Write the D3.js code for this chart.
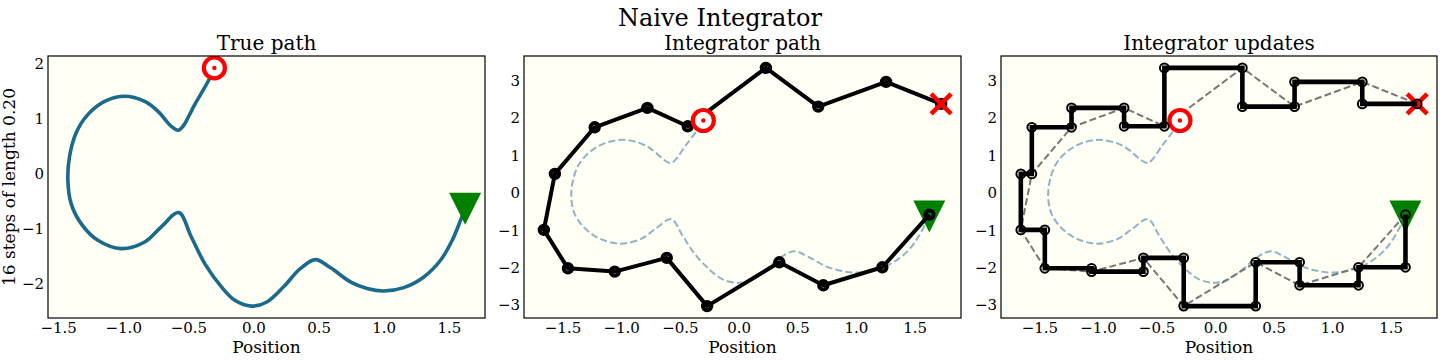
<!DOCTYPE html>
<html><head><meta charset="utf-8">
<script src="https://cdn.jsdelivr.net/npm/d3@7"></script>
<style>
body{margin:0;background:#fff}
svg{display:block}
text{font-family:"DejaVu Serif",serif;fill:#000}
</style>
</head><body>
<svg id="c" width="1440" height="360"></svg>
<script>
// ---- data ----
const truePathX = [1.625,1.59,1.526,1.436,1.308,1.154,1.0,0.872,0.744,0.59,0.475,0.359,0.231,0.103,-0.015,-0.143,-0.246,-0.374,-0.477,-0.574,-0.708,-0.835,-1.015,-1.195,-1.323,-1.40,-1.425,-1.412,-1.362,-1.272,-1.143,-0.99,-0.835,-0.733,-0.631,-0.579,-0.541,-0.451,-0.348,-0.30];
const truePathY = [-0.65,-0.86,-1.224,-1.587,-1.89,-2.084,-2.145,-2.10,-1.98,-1.72,-1.575,-1.74,-2.07,-2.345,-2.42,-2.315,-2.07,-1.647,-1.163,-0.72,-0.98,-1.254,-1.375,-1.224,-0.92,-0.557,-0.133,0.30,0.727,1.06,1.30,1.395,1.30,1.12,0.849,0.776,0.849,1.244,1.667,1.91];
const integX = [1.626,1.225,0.722,0.347,-0.268,-0.612,-1.055,-1.454,-1.659,-1.565,-1.226,-0.777,-0.433,0.233,0.679,1.257,1.726];
const integY = [-0.60,-2.005,-2.485,-1.872,-3.04,-1.755,-2.12,-2.032,-1.008,0.485,1.728,2.245,1.755,3.312,2.28,2.939,2.352];
const startPoint = [1.625,-0.65];
const targetPoint = [-0.30,1.91];
const xTicks = [-1.5,-1.0,-0.5,0.0,0.5,1.0,1.5];
const yTicks1 = [-2,-1,0,1,2];
const yTicks23 = [-3,-2,-1,0,1,2,3];
const titles = ["True path","Integrator path","Integrator updates"];
const mainTitle = "Naive Integrator";
const xLabel = "Position";
const yLabel = "16 steps of length 0.20";

// ---- layout ----
const svg = d3.select("#c");
const plotTop = 56, plotBottom = 318;
const panels = [{l:48,r:485},{l:524,r:961},{l:1001,r:1437}];
const BG = "#fffff5", PATH = "#1b6a8a";

const truePts = truePathX.map((x,i)=>[x,truePathY[i]]);
const integPts = integX.map((x,i)=>[x,integY[i]]);
const corners = integPts.slice(0,-1).map((p,i)=>[p[0], integPts[i+1][1]]);
const endPoint = integPts[integPts.length-1];

function dom(arr){const e=d3.extent(arr);const m=(e[1]-e[0])*0.05;return [e[0]-m,e[1]+m];}

const fmt1 = d3.format(".1f"), fmt0 = d3.format("d");

svg.append("text").attr("x",720).attr("y",26).attr("text-anchor","middle")
  .style("font-size","24px").text(mainTitle);

panels.forEach((p,k)=>{
  let xs = truePathX.concat([startPoint[0],targetPoint[0]]);
  let ys = truePathY.concat([startPoint[1],targetPoint[1]]);
  if(k>0){ xs = xs.concat(integX); ys = ys.concat(integY); }
  const x = d3.scaleLinear().domain(dom(xs)).range([p.l,p.r]);
  const y = d3.scaleLinear().domain(dom(ys)).range([plotBottom,plotTop]);
  const g = svg.append("g");
  const clipId = "clip"+k;
  svg.append("clipPath").attr("id",clipId).append("rect")
    .attr("x",p.l).attr("y",plotTop).attr("width",p.r-p.l).attr("height",plotBottom-plotTop);
  g.append("rect").attr("x",p.l).attr("y",plotTop).attr("width",p.r-p.l).attr("height",plotBottom-plotTop)
    .attr("fill",BG);
  const pg = g.append("g").attr("clip-path",`url(#${clipId})`);
  const line = d3.line().x(d=>x(d[0])).y(d=>y(d[1]));
  const smooth = d3.line().x(d=>x(d[0])).y(d=>y(d[1])).curve(d3.curveCatmullRom.alpha(0.5));

  function drawTriangle(){
    const cx=x(startPoint[0]), cy=y(startPoint[1]), s=16;
    pg.append("path").attr("d",`M${cx-s},${cy-s}L${cx+s},${cy-s}L${cx},${cy+s}Z`).attr("fill","#008000");
  }
  function drawTarget(){
    const cx=x(targetPoint[0]), cy=y(targetPoint[1]);
    pg.append("circle").attr("cx",cx).attr("cy",cy).attr("r",10.5).attr("fill","#fff")
      .attr("stroke","#ff0000").attr("stroke-width",4.2);
    pg.append("circle").attr("cx",cx).attr("cy",cy).attr("r",2.2).attr("fill","#ff0000");
  }
  function drawX(){
    const cx=x(endPoint[0]), cy=y(endPoint[1]), s=10;
    pg.append("path").attr("d",`M${cx-s},${cy-s}L${cx+s},${cy+s}M${cx-s},${cy+s}L${cx+s},${cy-s}`)
      .attr("stroke","#ff0000").attr("stroke-width",4.5).attr("fill","none");
  }

  if(k===0){
    pg.append("path").attr("d",smooth(truePts)).attr("fill","none").attr("stroke",PATH)
      .attr("stroke-width",3.6).attr("stroke-linejoin","round").attr("stroke-linecap","round");
    drawTarget(); drawTriangle();
  } else {
    drawTriangle();
    pg.append("path").attr("d",smooth(truePts)).attr("fill","none").attr("stroke",PATH)
      .attr("stroke-opacity",0.5).attr("stroke-width",2).attr("stroke-dasharray","7,3.2");
    if(k===1){
      pg.append("path").attr("d",line(integPts)).attr("fill","none").attr("stroke","#000")
        .attr("stroke-width",4).attr("stroke-linejoin","round");
      pg.selectAll(null).data(integPts).enter().append("circle")
        .attr("cx",d=>x(d[0])).attr("cy",d=>y(d[1])).attr("r",4.2)
        .attr("fill","none").attr("stroke","#000").attr("stroke-width",4);
      drawTarget(); drawX();
    } else {
      pg.append("path").attr("d",line(integPts)).attr("fill","none").attr("stroke","#777")
        .attr("stroke-width",2).attr("stroke-dasharray","7,3.2");
      drawTarget(); drawX();
      const stairs = [];
      integPts.slice(0,-1).forEach((pt,i)=>{stairs.push(pt); stairs.push(corners[i]);});
      stairs.push(endPoint);
      pg.append("path").attr("d",line(stairs)).attr("fill","none").attr("stroke","#000")
        .attr("stroke-width",4.6).attr("stroke-linejoin","miter").attr("stroke-linecap","butt");
      pg.selectAll(null).data(stairs).enter().append("circle")
        .attr("cx",d=>x(d[0])).attr("cy",d=>y(d[1])).attr("r",4.4)
        .attr("fill","none").attr("stroke","#000").attr("stroke-width",2);
    }
  }

  // frame
  g.append("rect").attr("x",p.l).attr("y",plotTop).attr("width",p.r-p.l).attr("height",plotBottom-plotTop)
    .attr("fill","none").attr("stroke","#000").attr("stroke-width",1.2);

  // ticks
  const xa = d3.axisBottom(x).tickValues(xTicks).tickFormat(fmt1).tickSize(0).tickPadding(0);
  const xg = svg.append("g").attr("transform",`translate(0,${plotBottom})`).call(xa);
  xg.select(".domain").remove();
  xg.selectAll("text").attr("dy",null).attr("y",15).style("font-size","15px").style("font-family",'"DejaVu Serif",serif');
  const yt = k===0 ? yTicks1 : yTicks23;
  const ya = d3.axisLeft(y).tickValues(yt).tickFormat(fmt0).tickSize(0).tickPadding(0);
  const yg = svg.append("g").attr("transform",`translate(${p.l},0)`).call(ya);
  yg.select(".domain").remove();
  yg.selectAll("text").attr("dy",null).attr("x",-4).attr("y",5.4).style("font-size","15px").style("font-family",'"DejaVu Serif",serif');

  svg.append("text").attr("x",(p.l+p.r)/2).attr("y",50).attr("text-anchor","middle")
    .style("font-size","20px").text(titles[k]);
  svg.append("text").attr("x",(p.l+p.r)/2).attr("y",353).attr("text-anchor","middle")
    .style("font-size","17px").text(xLabel);
});

svg.append("text").attr("transform",`translate(15,187) rotate(-90)`).attr("text-anchor","middle")
  .style("font-size","17px").text(yLabel);
</script>
</body></html>
